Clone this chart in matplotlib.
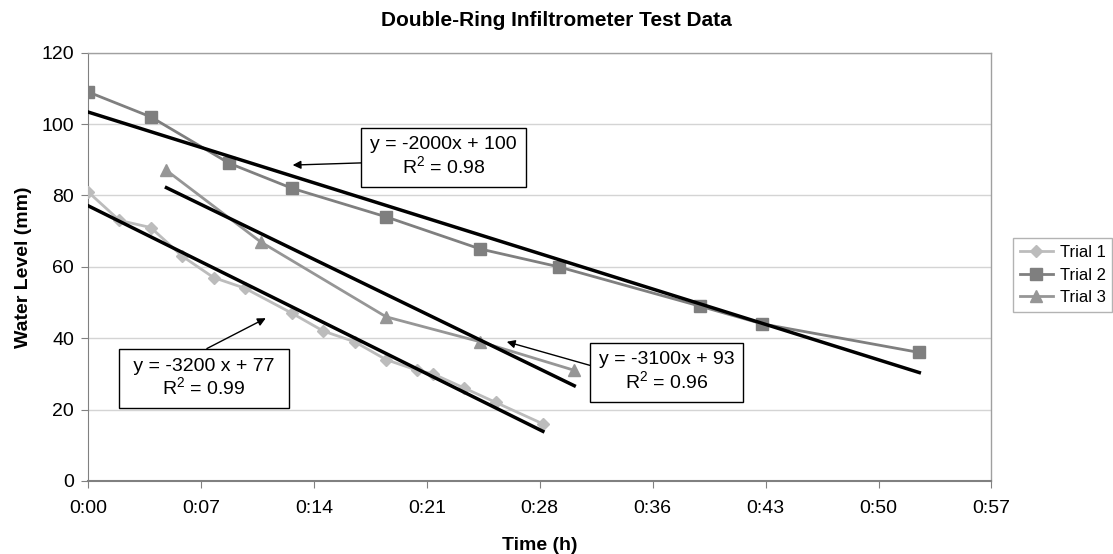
import numpy as np
import matplotlib
matplotlib.use('Agg')
import matplotlib.pyplot as plt
from matplotlib.ticker import FuncFormatter, MultipleLocator

plt.rcParams['font.family'] = 'Liberation Sans'
plt.rcParams['mathtext.fontset'] = 'custom'
plt.rcParams['mathtext.rm'] = 'Liberation Sans'

# time in minutes, water level in mm
t1 = [0, 2, 4, 6, 8, 10, 13, 15, 17, 19, 21, 22, 24, 26, 29]
y1 = [81, 73, 71, 63, 57, 54, 47, 42, 39, 34, 31, 30, 26, 22, 16]
t2 = [0, 4, 9, 13, 19, 25, 30, 39, 43, 53]
y2 = [109, 102, 89, 82, 74, 65, 60, 49, 44, 36]
t3 = [5, 11, 19, 25, 31]
y3 = [87, 67, 46, 39, 31]

labels = ['Trial 1', 'Trial 2', 'Trial 3']
colors = ['#bcbcbc', '#7f7f7f', '#969696']
markers = ['D', 's', '^']
msizes = [6.5, 9, 9]
eqs = [' y = -3200 x + 77 \nR$^2$ = 0.99',
       'y = -2000x + 100\nR$^2$ = 0.98',
       'y = -3100x + 93\nR$^2$ = 0.96']

fig = plt.figure(figsize=(11.13, 5.54), dpi=100)
ax = fig.add_axes([0.0791, 0.1318, 0.8117, 0.7732])

series = [(t1, y1), (t2, y2), (t3, y3)]
for (t, y), lab, c, m, ms in zip(series, labels, colors, markers, msizes):
    x = np.array(t) / 1440.0  # days, as Excel stores time
    ax.plot(x, y, color=c, marker=m, markersize=ms, lw=2, label=lab, zorder=3)

# linear trendlines over each data range
for t, y in series:
    x = np.array(t) / 1440.0
    k, b = np.polyfit(x, y, 1)
    xs = np.array([x.min(), x.max()])
    ax.plot(xs, k * xs + b, color='black', lw=2.5, zorder=4)

ax.set_xlim(0, 0.04)
ax.set_ylim(0, 120)
ax.xaxis.set_major_locator(MultipleLocator(0.005))
ax.yaxis.set_major_locator(MultipleLocator(20))


def hm(v, pos):
    mins = int(np.floor(v * 1440 + 1e-6))
    return f'{mins // 60}:{mins % 60:02d}'


ax.xaxis.set_major_formatter(FuncFormatter(hm))
ax.grid(axis='y', color='#d4d4d4', lw=1)
ax.set_axisbelow(True)
for s in ['top', 'right']:
    ax.spines[s].set_color('#a0a0a0')
    ax.spines[s].set_linewidth(1)
ax.spines['left'].set_color('#808080')
ax.spines['bottom'].set_color('#808080')
ax.spines['bottom'].set_linewidth(1.5)
ax.tick_params(labelsize=14, color='#808080', length=5, pad=5)
ax.tick_params(axis='x', pad=9)

fig.text(0.5, 1 - 20 / 554, 'Double-Ring Infiltrometer Test Data', fontsize=15,
         fontweight='bold', ha='center', va='center')
ax.set_xlabel('Time (h)', fontsize=14, fontweight='bold')
ax.set_ylabel('Water Level (mm)', fontsize=14, fontweight='bold')
ax.xaxis.set_label_coords(0.5, -0.13)
ax.yaxis.set_label_coords(-0.062, 0.5)

# equation boxes with arrows (positions in data coords)
boxprops = dict(boxstyle='square,pad=0.45', fc='white', ec='black', lw=1)


def arrow(rel):
    return dict(arrowstyle='-|>', color='black', lw=1, mutation_scale=12,
                relpos=rel, shrinkA=0, shrinkB=0)


ax.annotate(eqs[1], xy=(0.00906, 88.5), xytext=(0.01574, 90.7), fontsize=14,
            ha='center', va='center', linespacing=1.1, bbox=boxprops,
            arrowprops=arrow((0.0, 0.37)), zorder=6)
ax.annotate(eqs[0], xy=(0.00787, 45.6), xytext=(0.00514, 28.7), fontsize=14,
            ha='center', va='center', linespacing=1.1, bbox=boxprops,
            arrowprops=arrow((0.4, 1.0)), zorder=6)
ax.annotate(eqs[2], xy=(0.01854, 39.0), xytext=(0.02563, 30.5), fontsize=14,
            ha='center', va='center', linespacing=1.1, bbox=boxprops,
            arrowprops=arrow((0.0, 0.6)), zorder=6)

leg = ax.legend(loc='center left', bbox_to_anchor=(1013 / 1113, 1 - 275 / 554),
                bbox_transform=fig.transFigure, borderaxespad=0, fontsize=12,
                frameon=True, fancybox=False, edgecolor='#a0a0a0',
                handlelength=2.0, handletextpad=0.4, borderpad=0.4,
                labelspacing=0.45)

fig.savefig('out.png', dpi=100)
